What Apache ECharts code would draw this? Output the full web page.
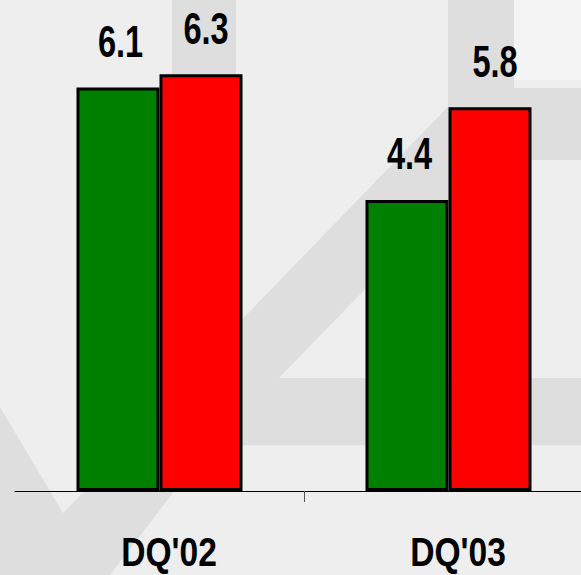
<!DOCTYPE html>
<html>
<head>
<meta charset="utf-8">
<script src="https://cdn.jsdelivr.net/npm/echarts@6/dist/echarts.min.js"></script>
<style>html,body{margin:0;padding:0;background:#eeeeee;}#c{width:581px;height:575px;}</style>
</head>
<body>
<div id="c"></div>
<script>
const categories = ["DQ'02", "DQ'03"];
const greenValues = [6.1, 4.4];
const redValues = [6.3, 5.8];
const tickSlots = ['', '', ''];

const FONT = "'Liberation Sans', Arial, sans-serif";
const band = '#dedede';
const BAR_W = 83;

function valueLabel(side, values, dx) {
  return function (params, api) {
    const v = values[params.dataIndex];
    const p = api.coord([params.dataIndex, v]);
    return {
      type: 'text',
      x: p[0] + side * BAR_W / 2 + dx,
      y: p[1] - 46,
      scaleX: 0.74,
      style: {text: String(v), fontFamily: FONT, fontWeight: 'bold', fontSize: 44, fill: '#000', align: 'center', verticalAlign: 'middle'}
    };
  };
}

const chart = echarts.init(document.getElementById('c'), null, {renderer: 'svg'});
chart.setOption({
  backgroundColor: '#eeeeee',
  animation: false,
  graphic: [
    {type: 'rect', z: -10, shape: {x: 172, y: 0, width: 64, height: 110}, style: {fill: band}},
    {type: 'rect', z: -10, shape: {x: 514, y: 0, width: 67, height: 80}, style: {fill: '#f3f3f3'}},
    {type: 'rect', z: -10, shape: {x: 448, y: 0, width: 66, height: 160}, style: {fill: band}},
    {type: 'rect', z: -10, shape: {x: 514, y: 88, width: 67, height: 72}, style: {fill: band}},
    {type: 'polygon', z: -10, shape: {points: [[470,84],[160,404],[160,445],[581,445],[581,378],[279,378],[470,181]]}, style: {fill: band}},
    {type: 'polygon', z: -10, shape: {points: [[0,407],[63,513],[175,400],[175,490],[110,575],[0,575]]}, style: {fill: band}}
  ],
  grid: {left: 15, top: 28, width: 578, bottom: 84, containLabel: false, outerBoundsMode: 'none'},
  xAxis: [
    {
      type: 'category',
      data: categories,
      axisLine: {show: true, lineStyle: {color: '#000', width: 1}},
      axisTick: {show: false},
      axisLabel: {show: false}
    },
    {
      type: 'category',
      data: tickSlots,
      position: 'bottom',
      boundaryGap: false,
      axisLine: {show: false},
      axisTick: {show: true, length: 11, interval: function (i) { return i === 1; }, lineStyle: {color: '#555', width: 1}},
      axisLabel: {show: false}
    }
  ],
  yAxis: {type: 'value', min: 0, max: 7, show: false, splitLine: {show: false}},
  series: [
    {
      type: 'bar', data: greenValues, barWidth: BAR_W, barGap: '0%',
      itemStyle: {color: '#008000', borderColor: '#000', borderWidth: 3}
    },
    {
      type: 'bar', data: redValues, barWidth: BAR_W, barGap: '0%',
      itemStyle: {color: '#ff0000', borderColor: '#000', borderWidth: 3}
    },
    {
      type: 'custom', data: greenValues, z: 5, silent: true,
      renderItem: valueLabel(-1, greenValues, 2.5)
    },
    {
      type: 'custom', data: redValues, z: 5, silent: true,
      renderItem: valueLabel(1, redValues, 5)
    },
    {
      type: 'custom', data: categories.map(function (c, i) { return [i, 0]; }), z: 5, silent: true,
      renderItem: function (params, api) {
        const p = api.coord([params.dataIndex, 0]);
        return {
          type: 'text',
          x: p[0] + 9.5,
          y: p[1] + 61,
          scaleX: 0.84,
          style: {text: categories[params.dataIndex], fontFamily: FONT, fontWeight: 'bold', fontSize: 40, fill: '#000', align: 'center', verticalAlign: 'middle'}
        };
      }
    }
  ]
});
</script>
</body>
</html>
